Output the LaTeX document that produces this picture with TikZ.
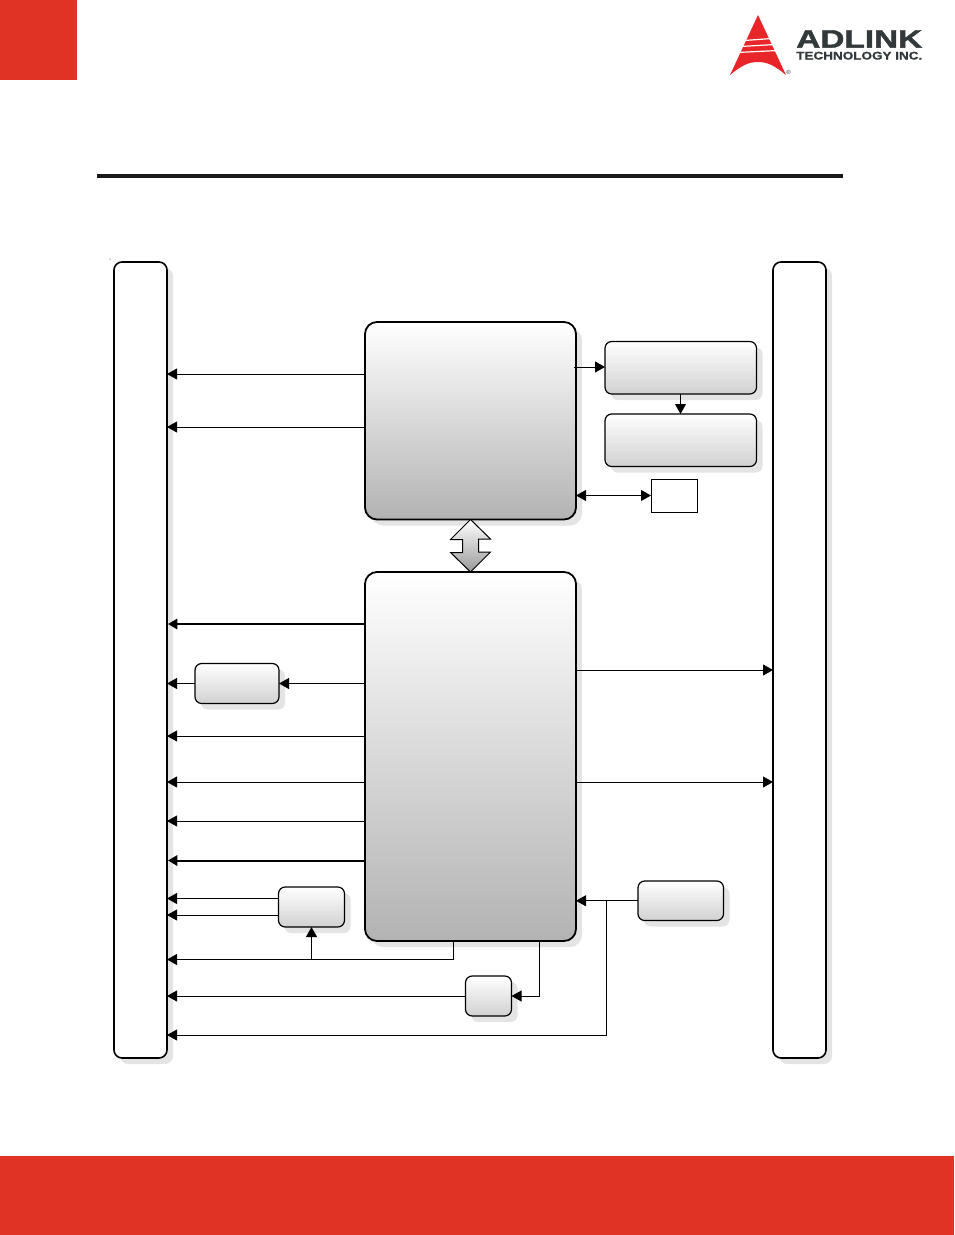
\documentclass[tikz,border=0pt]{standalone}
\usepackage{fontspec}
\usepackage{graphicx}
\setmainfont{Liberation Sans}
\usetikzlibrary{shadows,arrows.meta}
\definecolor{brandred}{HTML}{E03326}
\definecolor{logored}{HTML}{E8262A}
\definecolor{logogrey}{HTML}{33383B}
\definecolor{shade}{HTML}{E4E4E4}
\tikzset{
  basebox/.style={draw=black,inner sep=0pt,outer sep=0pt,general shadow={fill=shade,shadow xshift=4.5pt,shadow yshift=-4.5pt}},
  bar/.style={basebox,fill=white,line width=1.2pt,rounded corners=6pt},
  bigbox/.style={basebox,top color=white,bottom color=black!30,line width=1.35pt,rounded corners=9pt},
  smallbox/.style={basebox,top color=white,bottom color=black!18,line width=0.9pt,rounded corners=5pt},
  plainbox/.style={draw=black,fill=white,line width=0.6pt,inner sep=0pt,outer sep=0pt},
  conn/.style={line width=0.75pt,-{Triangle[length=7.5pt,width=8.2pt]}},
  thickconn/.style={line width=1.5pt,-{Triangle[length=7pt,width=7.8pt]}},
  plainconn/.style={line width=0.75pt},
  dbl/.style={conn,{Triangle[length=7.5pt,width=8.2pt]}-{Triangle[length=7.5pt,width=8.2pt]}},
}
\newcommand\bx[6]{\node[#6,minimum width={(#4-#2)*0.75pt},minimum height={(#5-#3)*0.75pt}] (#1) at ({(#2+#4)/2},{(#3+#5)/2}) {};}
\begin{document}
\begin{tikzpicture}[x=0.75pt,y=-0.75pt]
\useasboundingbox (0,0) rectangle (954,1235);
% page furniture
\fill[brandred] (0,0) rectangle (77,80);
\fill[brandred] (0,1156) rectangle (954,1235);
\fill[black!90] (97,174) rectangle (843,178);
\fill[black] (110,259) circle (0.5);
% logo
\fill[logored] (758,15) -- (786,75) .. controls (775,66) and (768,62) .. (758,62) .. controls (748,62) and (741,66) .. (730,75) -- cycle;
\draw[white,line width=0.9pt] (744,40.5) -- (772,38.5);
\draw[white,line width=0.9pt] (740,46.5) -- (775,44.5);
\draw[white,line width=0.9pt] (737,52.5) -- (778,50.5);
\node[text=logogrey,inner sep=0pt,anchor=north west] (logoa) at (796,30) {\resizebox{94.5pt}{13pt}{\addfontfeatures{FakeBold=1.5}\bfseries ADLINK}};
\node[text=logogrey,inner sep=0pt,anchor=north west] (logob) at (796,51.5) {\resizebox{94.5pt}{5.8pt}{\addfontfeatures{FakeBold=1}\bfseries TECHNOLOGY INC.}};
\node[text=logogrey,inner sep=0pt,font=\fontsize{4.5pt}{5pt}\selectfont] (logor) at (788.5,72.5) {®};
% boxes
\bx{lbar}{114}{262}{167}{1058}{bar}
\bx{rbar}{773}{262}{826}{1058}{bar}
\bx{upper}{365}{322}{576}{519.5}{bigbox}
\bx{lower}{365}{572}{576}{941}{bigbox}
\bx{boxa}{605}{341.5}{756.5}{394}{smallbox}
\bx{boxb}{605}{414}{756.5}{466.5}{smallbox}
\bx{rect}{651}{479}{697}{512}{plainbox}
\bx{boxc}{195}{663.5}{279}{703.5}{smallbox}
\bx{boxd}{278.5}{887}{344.5}{927}{smallbox}
\bx{boxe}{465.5}{976}{511.5}{1016}{smallbox}
\bx{boxf}{638}{881}{723.5}{920.5}{smallbox}
% double bus arrow
\draw[line width=0.75pt,top color=white,bottom color=black!40,shading angle=0]
  (upper.south) -- ++(20,19.5) -- ++(-12,0) -- ++(0,13) -- ++(12,0) -- (lower.north) -- ++(-20,-19.5) -- ++(12,0) -- ++(0,-13) -- ++(-12,0) -- cycle;
% upper connectors
\draw[conn] (upper.west |- 0,374) -- (lbar.east |- 0,374);
\draw[conn] (upper.west |- 0,427) -- (lbar.east |- 0,427);
\draw[conn] (574,367) -- (boxa.west |- 0,367);
\draw[conn] (boxa.south -| 680.5,0) -- (boxb.north -| 680.5,0);
\draw[dbl] (upper.east |- rect.west) -- (rect.west);
% lower, to the left
\draw[thickconn] (lower.west |- 0,624) -- (168,624);
\draw[conn] (lower.west |- 0,683.5) -- (boxc.east |- 0,683.5);
\draw[conn] (boxc.west |- 0,683.5) -- (lbar.east |- 0,683.5);
\draw[conn] (lower.west |- 0,736) -- (lbar.east |- 0,736);
\draw[conn] (lower.west |- 0,782) -- (lbar.east |- 0,782);
\draw[conn] (lower.west |- 0,821) -- (lbar.east |- 0,821);
\draw[thickconn] (lower.west |- 0,860.5) -- (168,860.5);
\draw[conn] (boxd.west |- 0,898.5) -- (lbar.east |- 0,898.5);
\draw[conn] (boxd.west |- 0,915) -- (lbar.east |- 0,915);
% lower, to the right
\draw[conn] (lower.east |- 0,670) -- (rbar.west |- 0,670);
\draw[conn] (lower.east |- 0,782) -- (rbar.west |- 0,782);
% lower, underneath
\coordinate (tapd) at (311.5,959.5);
\draw[conn] (lower.south -| 453.5,0) |- (lbar.east |- tapd);
\draw[conn] (tapd) -- (boxd.south);
\draw[conn] (lower.south -| 539.5,0) |- (boxe.east);
\draw[conn] (boxe.west) -- (lbar.east |- boxe.west);
\coordinate (tapf) at (606.5,900.5);
\draw[conn] (boxf.west) -- (lower.east |- boxf.west);
\draw[conn] (tapf) |- (lbar.east |- 0,1035);
\end{tikzpicture}
\end{document}
